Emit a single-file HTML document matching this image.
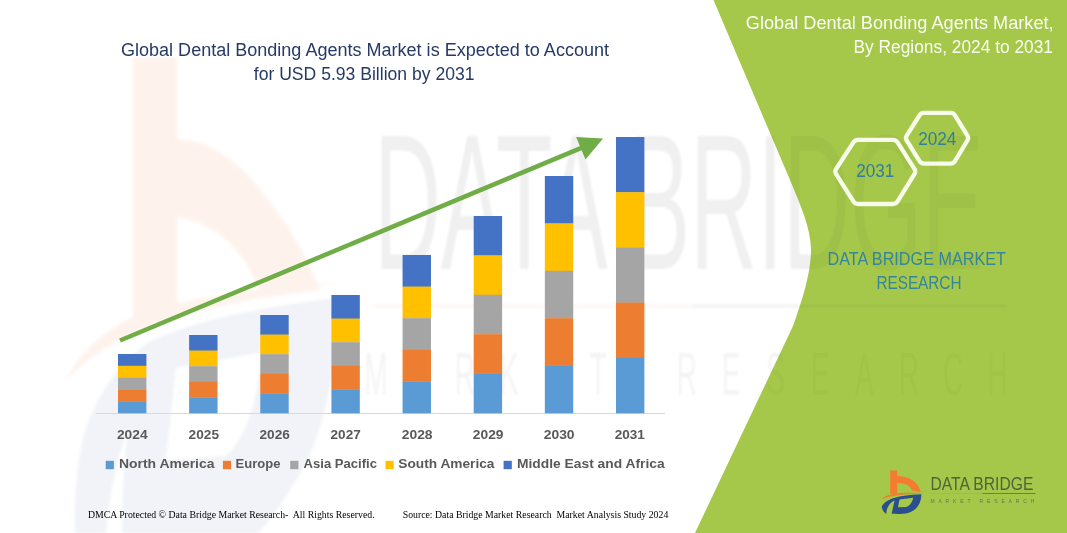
<!DOCTYPE html>
<html><head><meta charset="utf-8">
<style>
html,body{margin:0;padding:0;background:#fff;}
body{width:1067px;height:533px;overflow:hidden;position:relative;font-family:"Liberation Sans",sans-serif;}
svg{position:absolute;left:0;top:0;display:block;}
text{font-family:"Liberation Sans",sans-serif;}
.yl{font-size:13.6px;font-weight:bold;fill:#595959;}
.lg{font-size:13.4px;font-weight:bold;fill:#595959;}
.tt{font-size:18px;fill:#263A66;}
.rt{font-size:18px;fill:#FBFDF3;}
.hx{font-size:17.5px;fill:#2F7F9E;}
.db{font-size:18px;fill:#35859B;}
.ft{font-family:"Liberation Serif",serif;font-size:10.6px;fill:#000;}
.wm{font-size:80px;fill:#000;}
</style></head>
<body>
<svg width="1067" height="533" viewBox="0 0 1067 533">
<defs>
<symbol id="logo" viewBox="0 0 60 60" preserveAspectRatio="none">
<path fill="#F47B30" d="M15.2,8.4 H22.1 V14.0 C33,14.0 43.5,19.3 45.7,29.9 L37.0,28.6 C35.6,23.6 30,20.9 22.1,20.9 V32.3 H15.2 Z"/>
<g id="logoB">
<path fill="#F47B30" d="M6.7,37.2 C12,31.5 24,30.2 48.6,30.9 C30,32 16,33.3 6.7,37.2 Z"/>
<path fill="#2B4F8E" fill-rule="evenodd" d="M6.8,45.2 C8.5,38.5 20,33.2 46.3,32.2 C46.6,40.5 42,48.5 33,51 C28,52.2 21,52 16.6,51.8 L19.6,38.5 C15,40.5 11.5,45 11.3,52 C9.5,50.5 7,48 6.8,45.2 Z M24.6,37.4 L38.2,35.8 C37.4,40.0 35,44.0 31,45.0 L22.9,45.2 Z"/>
</g>
</symbol>
<symbol id="logoBot" viewBox="0 0 60 60" preserveAspectRatio="none"><use href="#logoB"/></symbol>
<g id="wmk">
<text class="wm" transform="translate(374,269) scale(1,2.42)" textLength="610" lengthAdjust="spacingAndGlyphs">DATA BRIDGE</text>
<rect x="373" y="304.5" width="316" height="3" fill="#E07020"/>
<rect x="691" y="304.5" width="316" height="3" fill="#33384a"/>
<text transform="translate(376.0,394.5) scale(0.46,1)" text-anchor="middle" style="font-size:61px;fill:#000;opacity:0.75">M</text>
<text transform="translate(420.4,394.5) scale(0.46,1)" text-anchor="middle" style="font-size:61px;fill:#000;opacity:0.75">A</text>
<text transform="translate(464.8,394.5) scale(0.46,1)" text-anchor="middle" style="font-size:61px;fill:#000;opacity:0.75">R</text>
<text transform="translate(509.2,394.5) scale(0.46,1)" text-anchor="middle" style="font-size:61px;fill:#000;opacity:0.75">K</text>
<text transform="translate(553.6,394.5) scale(0.46,1)" text-anchor="middle" style="font-size:61px;fill:#000;opacity:0.75">E</text>
<text transform="translate(598.0,394.5) scale(0.46,1)" text-anchor="middle" style="font-size:61px;fill:#000;opacity:0.75">T</text>
<text transform="translate(686.8,394.5) scale(0.46,1)" text-anchor="middle" style="font-size:61px;fill:#000;opacity:0.75">R</text>
<text transform="translate(731.2,394.5) scale(0.46,1)" text-anchor="middle" style="font-size:61px;fill:#000;opacity:0.75">E</text>
<text transform="translate(775.6,394.5) scale(0.46,1)" text-anchor="middle" style="font-size:61px;fill:#000;opacity:0.75">S</text>
<text transform="translate(820.0,394.5) scale(0.46,1)" text-anchor="middle" style="font-size:61px;fill:#000;opacity:0.75">E</text>
<text transform="translate(864.4,394.5) scale(0.46,1)" text-anchor="middle" style="font-size:61px;fill:#000;opacity:0.75">A</text>
<text transform="translate(908.8,394.5) scale(0.46,1)" text-anchor="middle" style="font-size:61px;fill:#000;opacity:0.75">R</text>
<text transform="translate(953.2,394.5) scale(0.46,1)" text-anchor="middle" style="font-size:61px;fill:#000;opacity:0.75">C</text>
<text transform="translate(997.6,394.5) scale(0.46,1)" text-anchor="middle" style="font-size:61px;fill:#000;opacity:0.75">H</text>
</g>
<clipPath id="pc"><path d="M713.5,0 L790,180 C800,204 811,228 811,250 C811,272 803,298 793,326 L695,533 L1067,533 L1067,0 Z"/></clipPath>
<filter id="bl" x="-5%" y="-5%" width="110%" height="110%"><feGaussianBlur stdDeviation="1.6"/></filter>
<filter id="bl2" x="-5%" y="-5%" width="110%" height="110%"><feGaussianBlur stdDeviation="1.2"/></filter>
</defs>
<rect width="1067" height="533" fill="#ffffff"/>
<!-- big logo watermark -->
<g opacity="0.085" filter="url(#bl)">
<path fill="#F47B30" d="M133,57.7 H177.5 V138.7 C207,140 234,158 254,182 C282,215 304,248 320,290 L262,298 C254,276 246,262 236,250 C222,234 204,222 177.5,217 V312 L133,326 Z"/>
<path fill="#F47B30" d="M66,380 C80,352 105,330 133,317 C190,296 260,288 338,282 C270,296 200,308 150,326 C115,340 88,358 66,380 Z"/>
<path fill="#2B4F8E" opacity="0.78" fill-rule="evenodd" d="M75,533 C74,480 80,435 94,409 C108,380 128,355 151,341 C200,318 270,306 336,298 C340,360 325,440 290,490 C280,506 270,520 258,533 L122,533 C122,500 124,465 128,428 C118,455 110,490 106,533 Z M176,368 L262,352 C258,400 246,438 226,456 L166,460 Z"/>
</g>
<use href="#wmk" opacity="0.06" filter="url(#bl2)"/>
<!-- green panel -->
<path d="M713.5,0 L790,180 C800,204 811,228 811,250 C811,272 803,298 793,326 L695,533 L1067,533 L1067,0 Z" fill="#A5C84A"/>
<use href="#wmk" opacity="0.035" clip-path="url(#pc)"/>
<!-- axis -->
<rect x="96" y="413" width="569" height="1" fill="#D9D9D9"/>
<rect x="118.00" y="354.00" width="28.4" height="12.10" fill="#4472C4"/>
<rect x="118.00" y="365.80" width="28.4" height="12.10" fill="#FFC000"/>
<rect x="118.00" y="377.60" width="28.4" height="12.10" fill="#A5A5A5"/>
<rect x="118.00" y="389.40" width="28.4" height="12.10" fill="#ED7D31"/>
<rect x="118.00" y="401.20" width="28.4" height="12.10" fill="#5B9BD5"/>
<rect x="189.14" y="335.00" width="28.4" height="15.90" fill="#4472C4"/>
<rect x="189.14" y="350.60" width="28.4" height="15.90" fill="#FFC000"/>
<rect x="189.14" y="366.20" width="28.4" height="15.90" fill="#A5A5A5"/>
<rect x="189.14" y="381.80" width="28.4" height="15.90" fill="#ED7D31"/>
<rect x="189.14" y="397.40" width="28.4" height="15.90" fill="#5B9BD5"/>
<rect x="260.28" y="315.00" width="28.4" height="19.90" fill="#4472C4"/>
<rect x="260.28" y="334.60" width="28.4" height="19.90" fill="#FFC000"/>
<rect x="260.28" y="354.20" width="28.4" height="19.90" fill="#A5A5A5"/>
<rect x="260.28" y="373.80" width="28.4" height="19.90" fill="#ED7D31"/>
<rect x="260.28" y="393.40" width="28.4" height="19.90" fill="#5B9BD5"/>
<rect x="331.42" y="295.00" width="28.4" height="23.90" fill="#4472C4"/>
<rect x="331.42" y="318.60" width="28.4" height="23.90" fill="#FFC000"/>
<rect x="331.42" y="342.20" width="28.4" height="23.90" fill="#A5A5A5"/>
<rect x="331.42" y="365.80" width="28.4" height="23.90" fill="#ED7D31"/>
<rect x="331.42" y="389.40" width="28.4" height="23.90" fill="#5B9BD5"/>
<rect x="402.56" y="255.00" width="28.4" height="31.90" fill="#4472C4"/>
<rect x="402.56" y="286.60" width="28.4" height="31.90" fill="#FFC000"/>
<rect x="402.56" y="318.20" width="28.4" height="31.90" fill="#A5A5A5"/>
<rect x="402.56" y="349.80" width="28.4" height="31.90" fill="#ED7D31"/>
<rect x="402.56" y="381.40" width="28.4" height="31.90" fill="#5B9BD5"/>
<rect x="473.70" y="216.00" width="28.4" height="39.70" fill="#4472C4"/>
<rect x="473.70" y="255.40" width="28.4" height="39.70" fill="#FFC000"/>
<rect x="473.70" y="294.80" width="28.4" height="39.70" fill="#A5A5A5"/>
<rect x="473.70" y="334.20" width="28.4" height="39.70" fill="#ED7D31"/>
<rect x="473.70" y="373.60" width="28.4" height="39.70" fill="#5B9BD5"/>
<rect x="544.84" y="176.00" width="28.4" height="47.70" fill="#4472C4"/>
<rect x="544.84" y="223.40" width="28.4" height="47.70" fill="#FFC000"/>
<rect x="544.84" y="270.80" width="28.4" height="47.70" fill="#A5A5A5"/>
<rect x="544.84" y="318.20" width="28.4" height="47.70" fill="#ED7D31"/>
<rect x="544.84" y="365.60" width="28.4" height="47.70" fill="#5B9BD5"/>
<rect x="615.98" y="137.00" width="28.4" height="55.50" fill="#4472C4"/>
<rect x="615.98" y="192.20" width="28.4" height="55.50" fill="#FFC000"/>
<rect x="615.98" y="247.40" width="28.4" height="55.50" fill="#A5A5A5"/>
<rect x="615.98" y="302.60" width="28.4" height="55.50" fill="#ED7D31"/>
<rect x="615.98" y="357.80" width="28.4" height="55.50" fill="#5B9BD5"/>
<!-- arrow -->
<line x1="120" y1="340.5" x2="582" y2="147.6" stroke="#70AD47" stroke-width="4.6"/>
<polygon points="603.1,138.6 576.1,136.9 585.5,159.4" fill="#70AD47"/>
<text x="116.9" y="438.7" textLength="30.7" lengthAdjust="spacingAndGlyphs" class="yl">2024</text>
<text x="188.6" y="438.7" textLength="30.4" lengthAdjust="spacingAndGlyphs" class="yl">2025</text>
<text x="259.5" y="438.7" textLength="30.3" lengthAdjust="spacingAndGlyphs" class="yl">2026</text>
<text x="330.6" y="438.7" textLength="30.1" lengthAdjust="spacingAndGlyphs" class="yl">2027</text>
<text x="401.7" y="438.7" textLength="30.9" lengthAdjust="spacingAndGlyphs" class="yl">2028</text>
<text x="472.8" y="438.7" textLength="30.7" lengthAdjust="spacingAndGlyphs" class="yl">2029</text>
<text x="543.7" y="438.7" textLength="30.9" lengthAdjust="spacingAndGlyphs" class="yl">2030</text>
<text x="614.8" y="438.7" textLength="30.1" lengthAdjust="spacingAndGlyphs" class="yl">2031</text>
<rect x="105.7" y="460.8" width="8.2" height="8.4" fill="#5B9BD5"/>
<text x="118.9" y="468.3" textLength="95.6" lengthAdjust="spacingAndGlyphs" class="lg">North America</text>
<rect x="222.9" y="460.8" width="8.2" height="8.4" fill="#ED7D31"/>
<text x="235.6" y="468.3" textLength="44.9" lengthAdjust="spacingAndGlyphs" class="lg">Europe</text>
<rect x="290.2" y="460.8" width="8.2" height="8.4" fill="#A5A5A5"/>
<text x="303.6" y="468.3" textLength="73.4" lengthAdjust="spacingAndGlyphs" class="lg">Asia Pacific</text>
<rect x="385.5" y="460.8" width="8.2" height="8.4" fill="#FFC000"/>
<text x="398.3" y="468.3" textLength="96.2" lengthAdjust="spacingAndGlyphs" class="lg">South America</text>
<rect x="503.6" y="460.8" width="8.2" height="8.4" fill="#4472C4"/>
<text x="517.0" y="468.3" textLength="147.6" lengthAdjust="spacingAndGlyphs" class="lg">Middle East and Africa</text>
<!-- titles -->
<text x="121" y="55.6" textLength="488" lengthAdjust="spacingAndGlyphs" class="tt">Global Dental Bonding Agents Market is Expected to Account</text>
<text x="253.8" y="80" textLength="220.7" lengthAdjust="spacingAndGlyphs" class="tt">for USD 5.93 Billion by 2031</text>
<text x="745.8" y="29.1" textLength="307.8" lengthAdjust="spacingAndGlyphs" class="rt">Global Dental Bonding Agents Market,</text>
<text x="853.5" y="52.9" textLength="199.5" lengthAdjust="spacingAndGlyphs" class="rt">By Regions, 2024 to 2031</text>
<!-- hexagons -->
<path d="M836.10,174.04 Q834.50,171.50 836.13,168.98 L853.37,142.42 Q855.00,139.90 858.00,139.90 L893.00,139.90 Q896.00,139.90 897.60,142.43 L914.40,168.97 Q916.00,171.50 914.43,174.05 L897.57,201.45 Q896.00,204.00 893.00,204.00 L858.00,204.00 Q855.00,204.00 853.40,201.46 Z" fill="none" stroke="#F7FBEA" stroke-width="4.3" stroke-linejoin="round"/>
<path d="M906.67,140.38 Q905.20,138.00 906.69,135.63 L919.51,115.27 Q921.00,112.90 923.80,112.90 L950.70,112.90 Q953.50,112.90 954.96,115.29 L967.44,135.61 Q968.90,138.00 967.46,140.40 L954.94,161.20 Q953.50,163.60 950.70,163.60 L923.80,163.60 Q921.00,163.60 919.53,161.22 Z" fill="none" stroke="#F7FBEA" stroke-width="4.3" stroke-linejoin="round"/>
<text x="856.2" y="176.6" textLength="38.2" lengthAdjust="spacingAndGlyphs" class="hx">2031</text>
<text x="918.2" y="144.9" textLength="38.2" lengthAdjust="spacingAndGlyphs" class="hx">2024</text>
<text x="827.5" y="265.3" textLength="178.4" lengthAdjust="spacingAndGlyphs" class="db">DATA BRIDGE MARKET</text>
<text x="876.4" y="289" textLength="85.1" lengthAdjust="spacingAndGlyphs" class="db">RESEARCH</text>
<!-- logo -->
<use href="#logo" x="875" y="462" width="60" height="60"/>
<text x="930.4" y="490" textLength="103" lengthAdjust="spacingAndGlyphs" style="font-size:18.4px;fill:#526239">DATA BRIDGE</text>
<rect x="930.4" y="493" width="52" height="1" fill="#D9A23A"/>
<rect x="982.4" y="493" width="53" height="1" fill="#6E7F45"/>
<text x="930.4" y="502.8" textLength="104" lengthAdjust="spacing" style="font-size:5px;fill:#64754A">MARKET RESEARCH</text>
<!-- footer -->
<text x="87.9" y="517.6" textLength="286.7" lengthAdjust="spacingAndGlyphs" class="ft">DMCA Protected © Data Bridge Market Research-&#160; All Rights Reserved.</text>
<text x="402.7" y="517.6" textLength="265.6" lengthAdjust="spacingAndGlyphs" class="ft">Source: Data Bridge Market Research&#160; Market Analysis Study 2024</text>
</svg>
</body></html>
